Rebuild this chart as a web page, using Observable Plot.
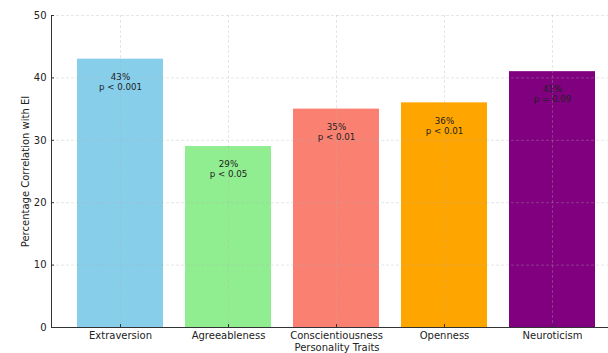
<!DOCTYPE html>
<html>
<head>
<meta charset="utf-8">
<script src="https://cdn.jsdelivr.net/npm/d3@7"></script>
<script src="https://cdn.jsdelivr.net/npm/@observablehq/plot@0.6"></script>
<style>
  html, body { margin: 0; padding: 0; background: #fff; }
  svg { display: block; }
</style>
</head>
<body>
<div id="chart"></div>
<script>
const traits = ["Extraversion", "Agreeableness", "Conscientiousness", "Openness", "Neuroticism"];
const correlations = [43, 29, 35, 36, 41];
const pLabels = ["p < 0.001", "p < 0.05", "p < 0.01", "p < 0.01", "p = 0.09"];
const colors = ["#87CEEB", "#90EE90", "#FA8072", "#FFA500", "#800080"];
const yTicks = [0, 10, 20, 30, 40, 50];

const data = traits.map((t, i) => ({
  trait: t,
  value: correlations[i],
  label: `${correlations[i]}%\n${pLabels[i]}`,
  color: colors[i]
}));

const font = "DejaVu Sans, sans-serif";
const gridStyle = {stroke: "#b0b0b0", strokeOpacity: 0.4, strokeDasharray: "3,2", strokeWidth: 0.8};

const chart = Plot.plot({
  width: 608,
  height: 353,
  marginLeft: 51,
  marginRight: -14,
  marginTop: 15,
  marginBottom: 26,
  style: {fontFamily: font, fontSize: "10px", color: "#222", background: "#fff"},
  x: {domain: traits, paddingInner: 0.2, paddingOuter: 0.24, label: null},
  y: {domain: [0, 50], label: null},
  marks: [
    Plot.barY(data, {x: "trait", y: "value", fill: "color"}),
    Plot.ruleY(yTicks.filter(d => d > 0), gridStyle),
    Plot.ruleX(traits, gridStyle),
    Plot.text(data, {
      x: "trait", y: d => d.value - 3.6, text: "label",
      fontSize: 8.7, lineHeight: 1.15, fill: "#222", textAnchor: "middle", lineAnchor: "middle"
    }),
    Plot.axisY({ticks: yTicks, tickSize: 0, tickPadding: 5, fontSize: 10, label: null}),
    Plot.axisY({ticks: yTicks, tickSize: 3, dx: 3, tickFormat: () => "", label: null, stroke: "#333"}),
    Plot.axisX({tickSize: 0, tickPadding: 4, fontSize: 10, label: null}),
    Plot.axisX({tickSize: 3, dy: -3, tickFormat: () => "", label: null, stroke: "#333"}),
    Plot.ruleY([0], {stroke: "#333", strokeWidth: 1}),
    Plot.frame({anchor: "left", stroke: "#333", strokeWidth: 1}),
    Plot.text(["Personality Traits"], {frameAnchor: "bottom", dy: 20, lineAnchor: "middle", fontSize: 10, fill: "#222"}),
    Plot.text(["Percentage Correlation with EI"], {frameAnchor: "left", dx: -26, rotate: -90, lineAnchor: "middle", textAnchor: "middle", fontSize: 10, fill: "#222"})
  ]
});
document.getElementById("chart").appendChild(chart);
</script>
</body>
</html>
